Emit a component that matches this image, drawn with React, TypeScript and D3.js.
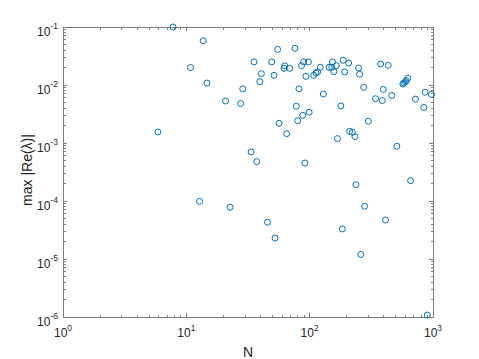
import React from 'react';
import * as d3 from 'd3';

// N and max |Re(lambda)|
const sizeN = [
  7.8, 13.7, 10.8, 14.7, 28.7, 20.8, 27.6, 35.4, 55, 49.2, 40.6, 39.4, 51.4, 62.8, 61.9,
  68.9, 76, 86, 89.4, 97.6, 93.3, 81.9, 78, 5.88, 56.5, 65.1, 80, 87.8, 99, 33.5,
  37.2, 91.6, 12.8, 22.6, 45.5, 52.4, 107.8, 112.4, 116, 122, 129, 144, 151, 153, 157,
  164, 179, 187, 192, 207, 249, 254, 274, 376, 434, 395, 342, 388, 464, 570,
  580, 596, 607, 625, 721, 864, 973, 843, 299, 211, 222, 233, 168, 509, 658,
  237, 279, 412, 184, 260, 898,
];
const maxRe = [
  0.1, 0.058, 0.02, 0.0108, 0.0086, 0.0053, 0.0048, 0.025, 0.041, 0.025, 0.0157, 0.0114, 0.0147, 0.0213, 0.0194,
  0.0194, 0.0429, 0.0216, 0.025, 0.025, 0.0141, 0.0086, 0.0043, 0.00155, 0.00219, 0.00145, 0.00243, 0.003, 0.0034, 0.0007,
  0.000477, 0.000452, 9.86e-5, 7.8e-5, 4.3e-5, 2.3e-5, 0.0147, 0.0161, 0.0168, 0.0202, 0.007, 0.0202, 0.0202, 0.025, 0.017,
  0.0216, 0.00435, 0.0267, 0.0168, 0.0239, 0.0196, 0.0153, 0.0091, 0.023, 0.0218, 0.0084, 0.0058, 0.0054, 0.0066, 0.0104,
  0.0108, 0.0114, 0.0119, 0.0131, 0.0057, 0.0075, 0.0069, 0.0041, 0.00237, 0.00159, 0.00153, 0.00129, 0.00119, 0.00088, 0.000224,
  0.000191, 8.1e-5, 4.7e-5, 3.3e-5, 1.2e-5, 1.08e-6,
];
const xExps = [0, 1, 2, 3];
const yExps = [-6, -5, -4, -3, -2, -1];

const W = 479;
const H = 359;
const left = 63, right = 433, top = 27, bottom = 317;
const axisColor = '#808080';
const textColor = '#262626';
const font = 'Liberation Sans, Arial, Helvetica, sans-serif';

export default function App() {
  const x = d3.scaleLog().domain([1, 1000]).range([left, right]);
  const y = d3.scaleLog().domain([1e-6, 1e-1]).range([bottom, top]);

  const minor = (exps: number[]) => {
    const out: number[] = [];
    exps.slice(0, -1).forEach(e => {
      for (let k = 2; k < 10; k++) out.push(k * Math.pow(10, e));
    });
    return out;
  };
  const xMinor = minor(xExps);
  const yMinor = minor(yExps);
  const major = 4, small = 2.5;

  return (
    <svg width={W} height={H} style={{ position: 'absolute', left: 0, top: 0, background: '#fff' }}
      fontFamily={font}>
      <rect x={left} y={top} width={right - left} height={bottom - top} fill="#fff" />
      <g stroke={axisColor} strokeWidth={1} shapeRendering="crispEdges">
        {xExps.map(e => {
          const px = x(Math.pow(10, e));
          return (
            <g key={'xM' + e}>
              <line x1={px} x2={px} y1={bottom} y2={bottom - major} />
              <line x1={px} x2={px} y1={top} y2={top + major} />
            </g>
          );
        })}
        {xMinor.map((v, i) => (
          <g key={'xm' + i}>
            <line x1={x(v)} x2={x(v)} y1={bottom} y2={bottom - small} />
            <line x1={x(v)} x2={x(v)} y1={top} y2={top + small} />
          </g>
        ))}
        {yExps.map(e => {
          const py = y(Math.pow(10, e));
          return (
            <g key={'yM' + e}>
              <line x1={left} x2={left + major} y1={py} y2={py} />
              <line x1={right} x2={right - major} y1={py} y2={py} />
            </g>
          );
        })}
        {yMinor.map((v, i) => (
          <g key={'ym' + i}>
            <line x1={left} x2={left + small} y1={y(v)} y2={y(v)} />
            <line x1={right} x2={right - small} y1={y(v)} y2={y(v)} />
          </g>
        ))}
        <rect x={left} y={top} width={right - left} height={bottom - top} fill="none" />
      </g>

      <g fill={textColor} fontSize={12}>
        {xExps.map(e => (
          <text key={'xl' + e} x={x(Math.pow(10, e))} y={bottom + 20} textAnchor="middle">
            10<tspan fontSize={8.5} dy={-6}>{e}</tspan>
          </text>
        ))}
        {yExps.map(e => (
          <text key={'yl' + e} x={left - 5} y={y(Math.pow(10, e)) + 8.5} textAnchor="end">
            10<tspan fontSize={8.5} dy={-7}>{e}</tspan>
          </text>
        ))}
      </g>

      <text x={(left + right) / 2} y={357} textAnchor="middle" fontSize={14} fill={textColor}>N</text>
      <text transform={`translate(32,${(top + bottom) / 2 - 2}) rotate(-90)`} textAnchor="middle"
        fontSize={14} fill={textColor}>max |Re(λ)|</text>

      <g fill="none" stroke="#0072BD" strokeWidth={1}>
        {sizeN.map((n, i) => (
          <circle key={i} cx={x(n)} cy={y(maxRe[i])} r={3} />
        ))}
      </g>
    </svg>
  );
}
